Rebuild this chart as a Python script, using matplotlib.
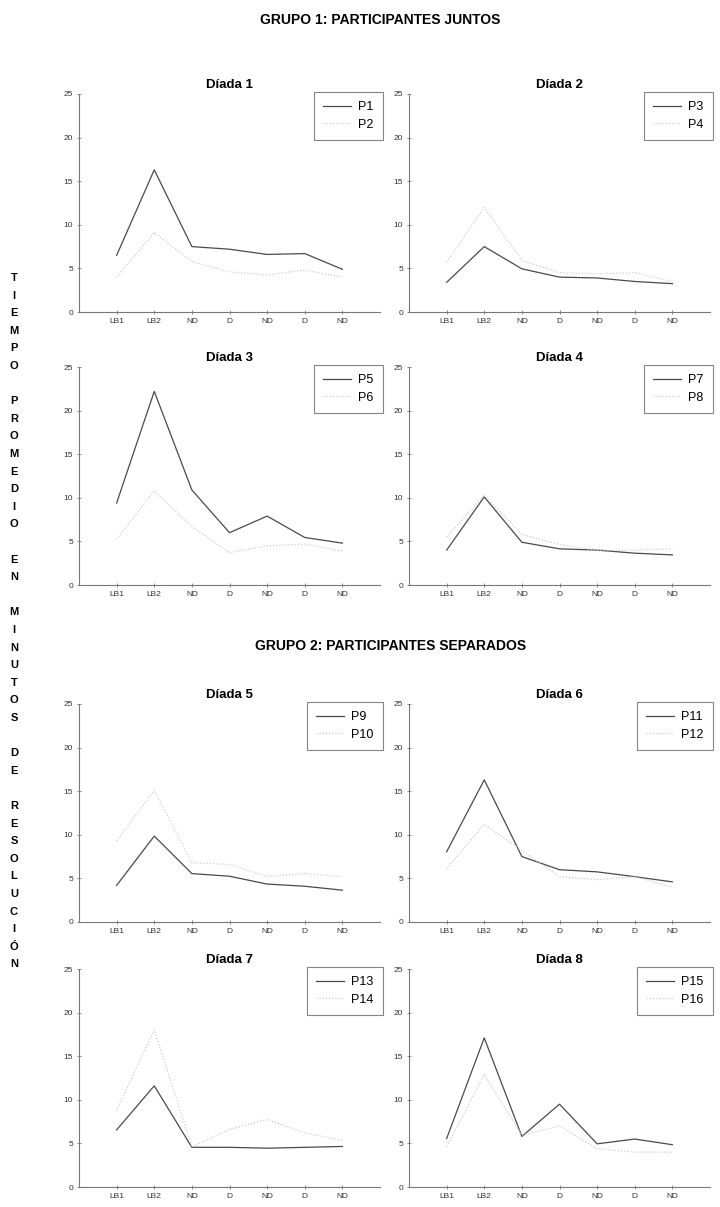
import matplotlib
matplotlib.use("Agg")
import matplotlib.pyplot as plt

categories = ["LB1", "LB2", "ND", "D", "ND", "D", "ND"]
titles = ["Díada 1", "Díada 2", "Díada 3", "Díada 4",
          "Díada 5", "Díada 6", "Díada 7", "Díada 8"]
labels_a = ["P1", "P3", "P5", "P7", "P9", "P11", "P13", "P15"]
labels_b = ["P2", "P4", "P6", "P8", "P10", "P12", "P14", "P16"]

p1 = [6.5, 16.3, 7.5, 7.2, 6.6, 6.7, 4.9]
p2 = [4.0, 9.1, 5.8, 4.6, 4.25, 4.8, 4.0]
p3 = [3.4, 7.5, 4.95, 4.0, 3.9, 3.5, 3.25]
p4 = [5.7, 12.0, 5.9, 4.5, 4.4, 4.5, 3.5]
p5 = [9.4, 22.2, 10.9, 6.0, 7.9, 5.45, 4.8]
p6 = [5.25, 10.8, 6.7, 3.7, 4.5, 4.7, 3.9]
p7 = [4.0, 10.1, 4.9, 4.15, 4.0, 3.65, 3.45]
p8 = [5.5, 10.3, 5.8, 4.65, 4.0, 4.0, 4.15]
p9 = [4.2, 9.85, 5.55, 5.25, 4.35, 4.1, 3.65]
p10 = [9.3, 15.1, 6.8, 6.6, 5.2, 5.55, 5.2]
p11 = [8.05, 16.3, 7.5, 6.0, 5.75, 5.2, 4.6]
p12 = [6.1, 11.2, 8.2, 5.2, 4.85, 5.2, 4.0]
p13 = [6.55, 11.6, 4.55, 4.55, 4.45, 4.55, 4.65]
p14 = [8.8, 18.0, 4.6, 6.6, 7.75, 6.2, 5.35]
p15 = [5.55, 17.1, 5.8, 9.5, 4.95, 5.5, 4.85]
p16 = [4.6, 12.9, 5.95, 7.0, 4.4, 4.0, 4.0]

series_a = [p1, p3, p5, p7, p9, p11, p13, p15]
series_b = [p2, p4, p6, p8, p10, p12, p14, p16]

plt.rcParams['font.family'] = ['Liberation Sans', 'DejaVu Sans']

W, H = 720, 1207
fig = plt.figure(figsize=(W / 100, H / 100), dpi=100)

lefts = [79, 409]
tops = [94, 367, 704, 969]
ax_w, ax_h = 301, 218

xs = list(range(1, len(categories) + 1))

for i in range(8):
    r, c = divmod(i, 2)
    l = lefts[c]
    t = tops[r]
    ax = fig.add_axes([l / W, 1 - (t + ax_h) / H, ax_w / W, ax_h / H])
    ax.plot(xs, series_a[i], color='#4a4a4a', lw=0.9, ls='-', label=labels_a[i])
    ax.plot(xs, series_b[i], color='#cccccc', lw=0.9, ls=(0, (1, 1.5)), label=labels_b[i])
    ax.set_xlim(0, 8)
    ax.set_ylim(0, 25)
    ax.set_yticks([0, 5, 10, 15, 20, 25])
    ax.set_xticks(xs)
    ax.set_xticklabels(categories)
    ax.tick_params(labelsize=6, colors='#333333', length=2.5, width=0.6,
                   color='#777777', direction='inout', pad=3)
    for s in ['top', 'right']:
        ax.spines[s].set_visible(False)
    for s in ['left', 'bottom']:
        ax.spines[s].set_color('#777777')
        ax.spines[s].set_linewidth(0.8)
    ax.set_title(titles[i], fontsize=9.5, fontweight='bold', pad=4)
    leg = ax.legend(loc='upper right', bbox_to_anchor=(1.01, 1.01), fontsize=9,
                    frameon=True, fancybox=False, handlelength=2.2,
                    borderpad=0.75, labelspacing=0.45, handletextpad=0.6,
                    borderaxespad=0)
    leg.get_frame().set_edgecolor('#666666')
    leg.get_frame().set_linewidth(0.8)

fig.text(380 / W, 1 - 20 / H, "GRUPO 1: PARTICIPANTES JUNTOS", ha='center',
         va='center', fontsize=10, fontweight='bold')
fig.text(391 / W, 1 - 646 / H, "GRUPO 2: PARTICIPANTES SEPARADOS", ha='center',
         va='center', fontsize=10, fontweight='bold')

side = "TIEMPO PROMEDIO EN MINUTOS DE RESOLUCIÓN"
y0, step = 278, 17.6
for k, ch in enumerate(side):
    if ch != ' ':
        fig.text(14 / W, 1 - (y0 + k * step) / H, ch, ha='center', va='center',
                 fontsize=8, fontweight='bold')

fig.savefig("out.png", dpi=100)
